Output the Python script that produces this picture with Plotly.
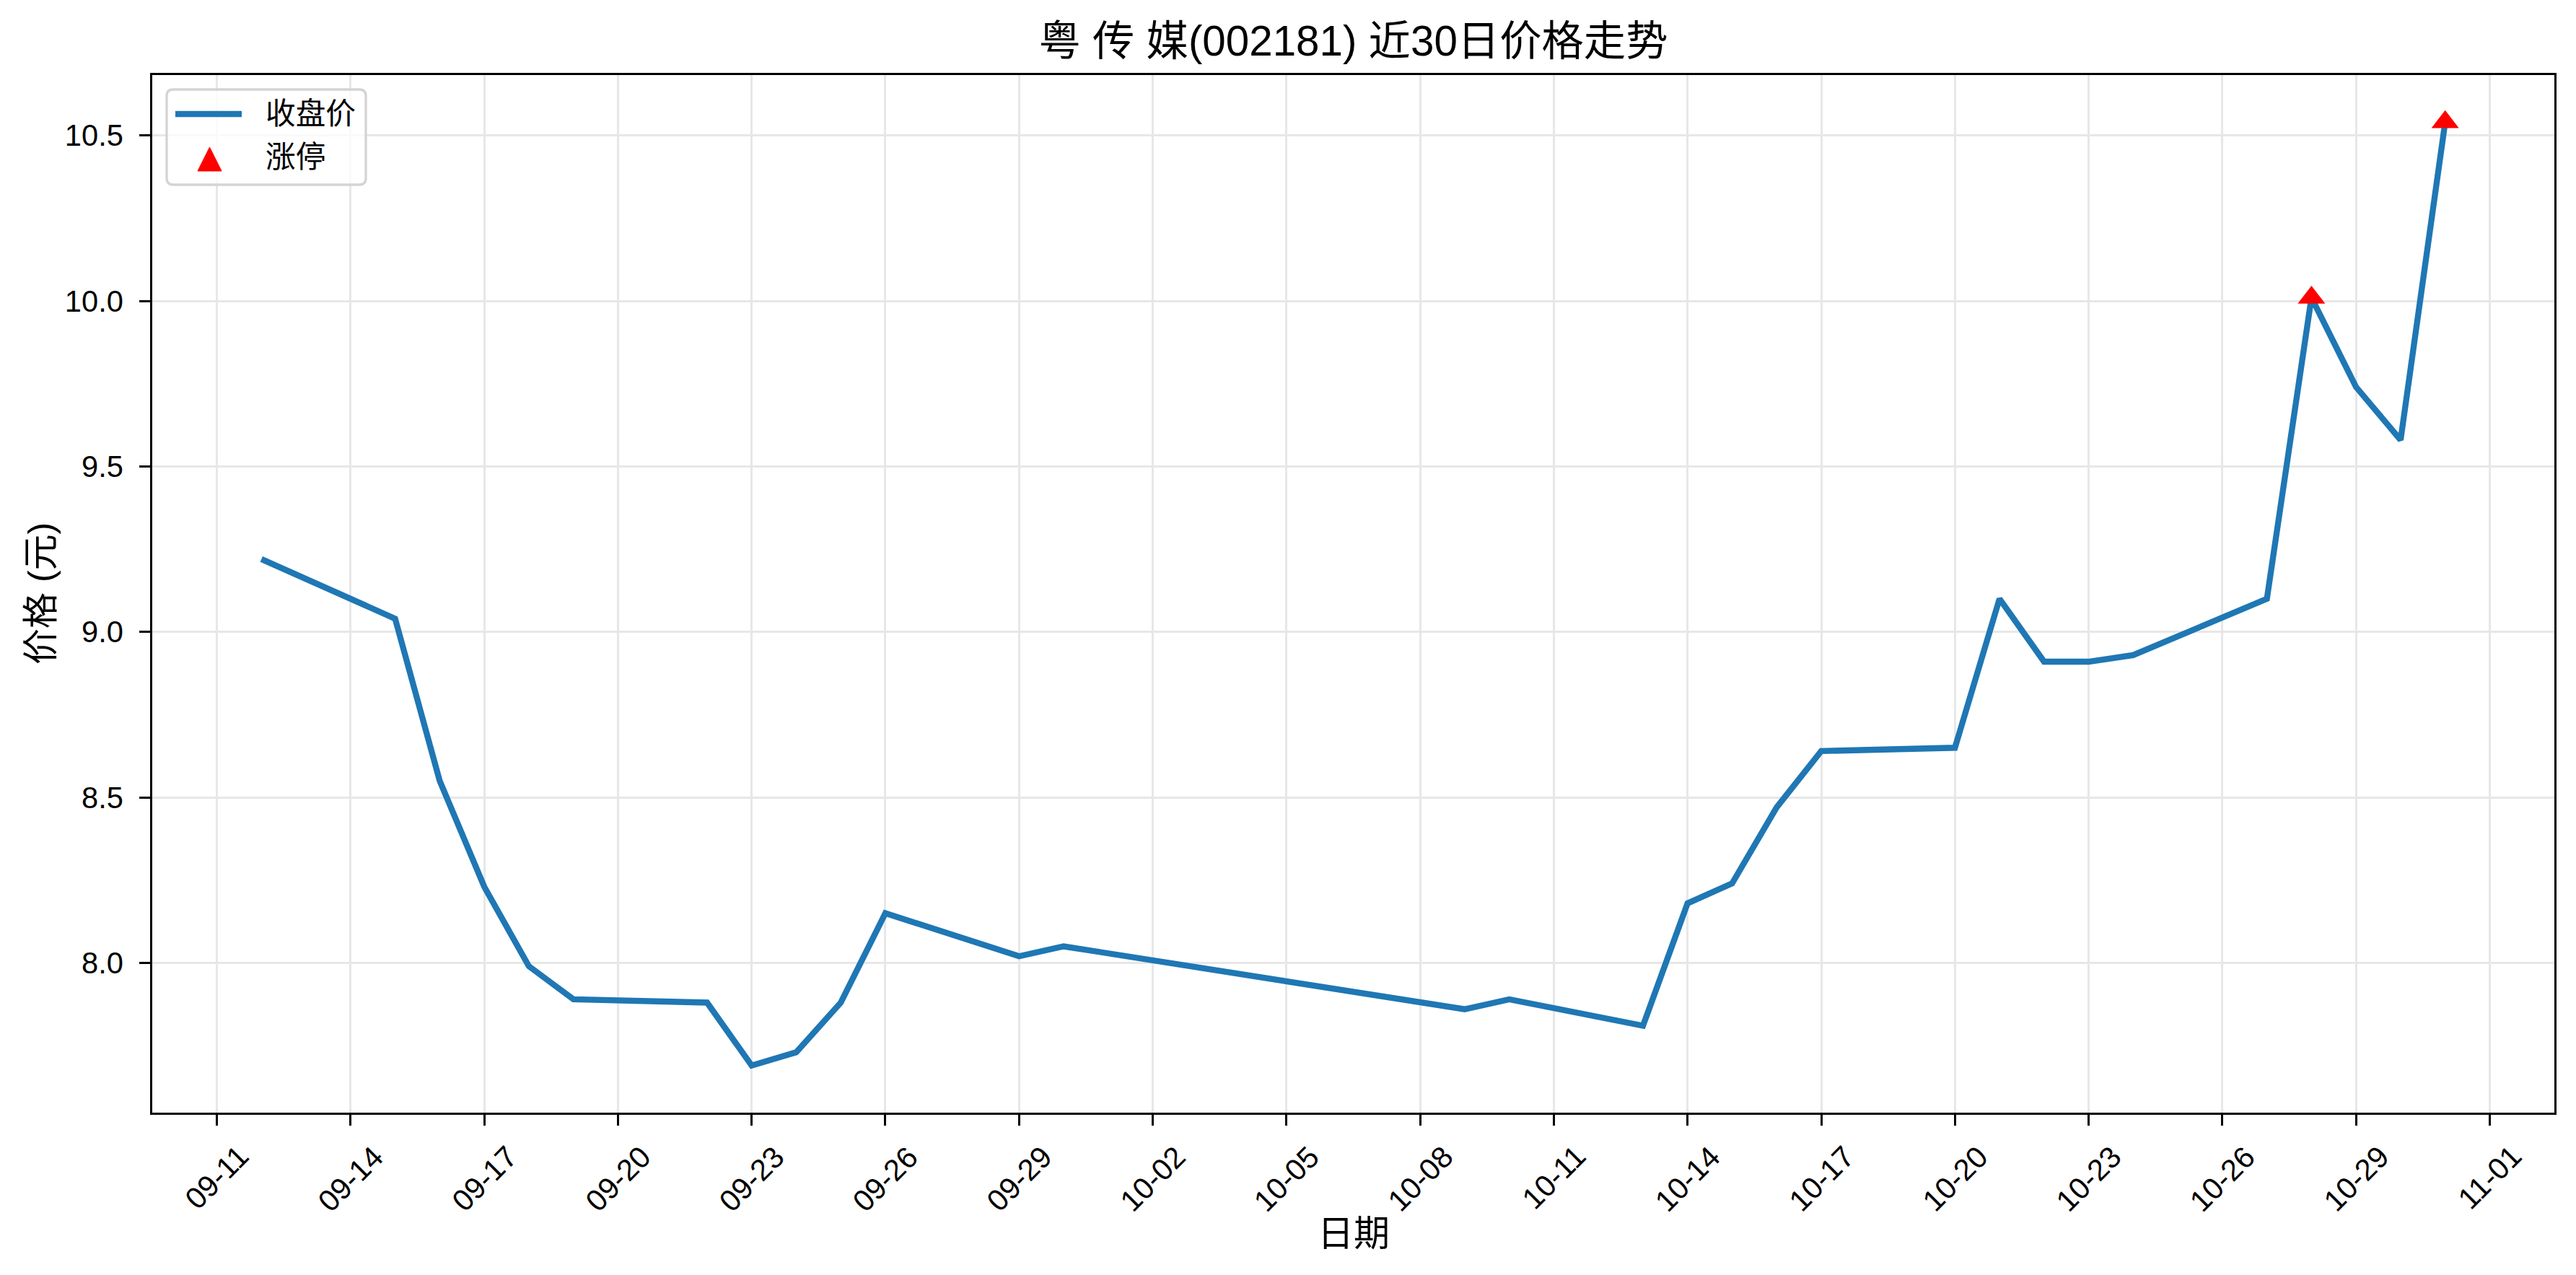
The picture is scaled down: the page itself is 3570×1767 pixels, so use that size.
import pandas as pd
import plotly.graph_objects as go

DATES = [
    "2025-09-12", "2025-09-15", "2025-09-16", "2025-09-17", "2025-09-18",
    "2025-09-19", "2025-09-22", "2025-09-23", "2025-09-24", "2025-09-25",
    "2025-09-26", "2025-09-29", "2025-09-30", "2025-10-09", "2025-10-10",
    "2025-10-13", "2025-10-14", "2025-10-15", "2025-10-16", "2025-10-17",
    "2025-10-20", "2025-10-21", "2025-10-22", "2025-10-23", "2025-10-24",
    "2025-10-27", "2025-10-28", "2025-10-29", "2025-10-30", "2025-10-31",
]
CLOSE = [
    9.22, 9.04, 8.55, 8.23, 7.99,
    7.89, 7.88, 7.69, 7.73, 7.88,
    8.15, 8.02, 8.05, 7.86, 7.89,
    7.81, 8.18, 8.24, 8.47, 8.64,
    8.65, 9.10, 8.91, 8.91, 8.93,
    9.10, 10.01, 9.74, 9.58, 10.54,
]
LIMIT_UP_DATES = ["2025-10-28", "2025-10-31"]
LIMIT_UP_CLOSE = [10.01, 10.54]

TICK_DATES = [
    "2025-09-11", "2025-09-14", "2025-09-17", "2025-09-20", "2025-09-23",
    "2025-09-26", "2025-09-29", "2025-10-02", "2025-10-05", "2025-10-08",
    "2025-10-11", "2025-10-14", "2025-10-17", "2025-10-20", "2025-10-23",
    "2025-10-26", "2025-10-29", "2025-11-01",
]
TICK_LABELS = [
    "09-11", "09-14", "09-17", "09-20", "09-23", "09-26", "09-29", "10-02",
    "10-05", "10-08", "10-11", "10-14", "10-17", "10-20", "10-23", "10-26",
    "10-29", "11-01",
]

TITLE = "粤 传 媒(002181) 近30日价格走势"
LEGEND_NAMES = ["收盘价", "涨停"]
FONT = "Liberation Sans, Arial, Noto Sans CJK SC, sans-serif"
PT = 300 / 72  # matplotlib points -> pixels at dpi 300

# page geometry (the browser body keeps its default 8px margin)
PAGE_W, PAGE_H, OFF = 3570, 1767, 8
W, H = PAGE_W - OFF, PAGE_H - OFF
PL, PR, PT_, PB = 211, 3540, 104, 1542  # plot box in page pixels
L, R, T, B = PL - OFF, PAGE_W - PR, PT_ - OFF, PAGE_H - PB
PW, PH = PR - PL, PB - PT_


def px_x(x):
    return (x - PL) / PW


def px_y(y):
    return 1 - (y - PT_) / PH


dates = pd.to_datetime(DATES)
span = dates.max() - dates.min()
x_range = [dates.min() - span * 0.05, dates.max() + span * 0.05]
ymin, ymax = min(CLOSE), max(CLOSE)
pad = (ymax - ymin) * 0.05
y_range = [ymin - pad, ymax + pad]

fig = go.Figure()
fig.add_trace(go.Scatter(
    x=dates, y=CLOSE, mode="lines", name=LEGEND_NAMES[0],
    line=dict(color="#1f77b4", width=2 * PT), showlegend=False,
))
fig.add_trace(go.Scatter(
    x=pd.to_datetime(LIMIT_UP_DATES), y=LIMIT_UP_CLOSE, mode="markers", name=LEGEND_NAMES[1],
    marker=dict(symbol="triangle-up", size=33, color="red", line=dict(width=0)),
    showlegend=False,
))

axis_common = dict(
    showline=True, linecolor="black", linewidth=0.8 * PT, mirror=True,
    showgrid=True, gridcolor="#e7e7e7", gridwidth=0.8 * PT,
    ticks="outside", ticklen=3.5 * PT, tickwidth=0.8 * PT, tickcolor="black",
    tickfont=dict(family=FONT, size=10 * PT, color="black"),
    zeroline=False, automargin=False,
)

fig.update_xaxes(
    **axis_common,
    type="date", range=x_range,
    tickvals=pd.to_datetime(TICK_DATES), showticklabels=False,
)
fig.update_yaxes(
    **axis_common,
    range=y_range, tick0=8.0, dtick=0.5, tickformat=".1f",
    ticklabelstandoff=14,
)

annotations = []
# rotated date labels, centred under each tick like matplotlib's rotation=45
for d, lab in zip(pd.to_datetime(TICK_DATES), TICK_LABELS):
    annotations.append(dict(
        text=lab, xref="x", yref="paper", x=d, y=px_y(1576),
        showarrow=False, xanchor="center", yanchor="top", textangle=-45,
        font=dict(family=FONT, size=10 * PT, color="black"),
    ))
annotations += [
    dict(text="日期", xref="paper", yref="paper", x=0.5, y=px_y(1710),
         showarrow=False, xanchor="center", yanchor="middle",
         font=dict(family=FONT, size=12 * PT, color="black")),
    dict(text="价格 (元)", xref="paper", yref="paper", x=px_x(57), y=0.5,
         showarrow=False, xanchor="center", yanchor="middle", textangle=-90,
         font=dict(family=FONT, size=12 * PT, color="black")),
]
# legend text
for name, cy in zip(LEGEND_NAMES, [158, 217]):
    annotations.append(dict(
        text=name, xref="paper", yref="paper", x=px_x(366), y=px_y(cy),
        showarrow=False, xanchor="left", yanchor="middle",
        font=dict(family=FONT, size=10 * PT, color="black"),
    ))

# legend frame (rounded), line sample and marker sample
x0, x1, y0, y1, rr = 231, 507, 124, 256, 9
frame = (
    f"M {px_x(x0 + rr)},{px_y(y0)} L {px_x(x1 - rr)},{px_y(y0)} "
    f"Q {px_x(x1)},{px_y(y0)} {px_x(x1)},{px_y(y0 + rr)} "
    f"L {px_x(x1)},{px_y(y1 - rr)} Q {px_x(x1)},{px_y(y1)} {px_x(x1 - rr)},{px_y(y1)} "
    f"L {px_x(x0 + rr)},{px_y(y1)} Q {px_x(x0)},{px_y(y1)} {px_x(x0)},{px_y(y1 - rr)} "
    f"L {px_x(x0)},{px_y(y0 + rr)} Q {px_x(x0)},{px_y(y0)} {px_x(x0 + rr)},{px_y(y0)} Z"
)
tri = (
    f"M {px_x(274)},{px_y(237)} L {px_x(307)},{px_y(237)} "
    f"L {px_x(290.5)},{px_y(204)} Z"
)
shapes = [
    dict(type="path", path=frame, xref="paper", yref="paper", layer="above",
         fillcolor="rgba(255,255,255,0.8)", line=dict(color="#d4d4d4", width=0.8 * PT)),
    dict(type="line", xref="paper", yref="paper", layer="above",
         x0=px_x(243), x1=px_x(335), y0=px_y(158), y1=px_y(158),
         line=dict(color="#1f77b4", width=2 * PT)),
    dict(type="path", path=tri, xref="paper", yref="paper", layer="above",
         fillcolor="red", line=dict(color="red", width=1)),
]

fig.update_layout(
    width=W, height=H,
    margin=dict(l=L, r=R, t=T, b=B),
    paper_bgcolor="white", plot_bgcolor="white",
    font=dict(family=FONT, color="black"),
    showlegend=False,
    title=dict(
        text=TITLE, x=(L + (W - R)) / 2 / W, xanchor="center",
        y=1 - (57 - OFF) / H, yanchor="middle", yref="container",
        font=dict(family=FONT, size=14 * PT, color="black"),
    ),
    annotations=annotations,
    shapes=shapes,
)

fig.write_html("out.html")
